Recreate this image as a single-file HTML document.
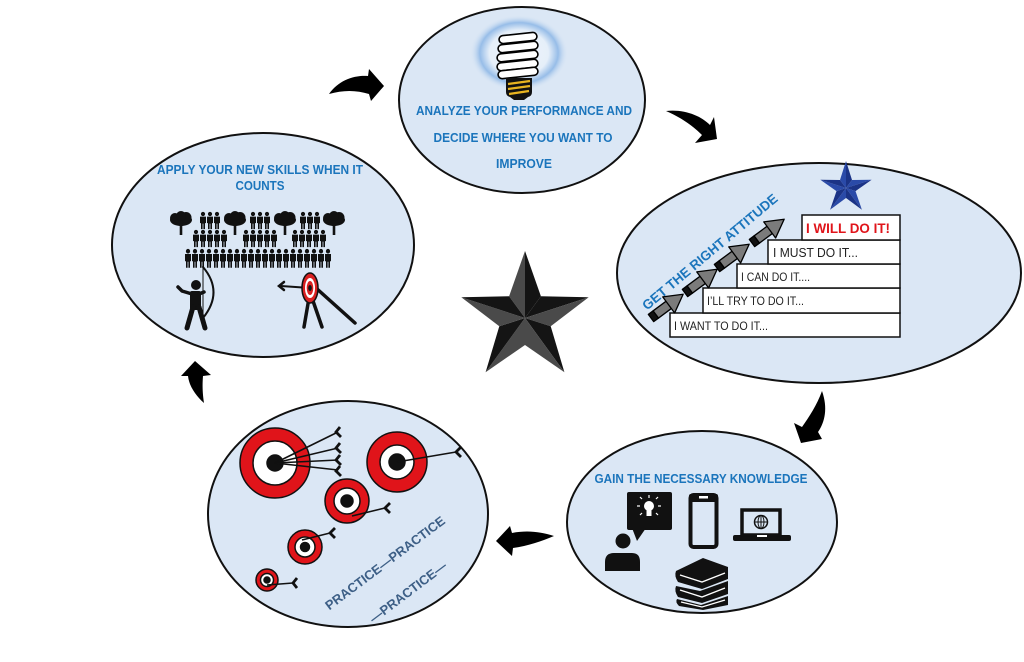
<!DOCTYPE html>
<html><head><meta charset="utf-8"><style>
html,body{margin:0;padding:0;background:#fff;}
svg{display:block;}
text{font-family:"Liberation Sans",sans-serif;}
</style></head><body>
<svg width="1024" height="662" viewBox="0 0 1024 662" xmlns="http://www.w3.org/2000/svg">
<defs>
<radialGradient id="glow" cx="0.5" cy="0.5" r="0.5">
<stop offset="0" stop-color="#eef4fb"/>
<stop offset="0.6" stop-color="#e6eff9"/>
<stop offset="0.8" stop-color="#97bde8"/>
<stop offset="1" stop-color="#dbe7f5" stop-opacity="0"/>
</radialGradient>
<g id="p"><circle cx="0" cy="2" r="2.1"/><path d="M-3,4.6 h6 v6.5 h-1 v6 h-1.6 v-5.5 h-0.8 v5.5 h-1.6 v-6 h-1 z"/></g>
<g id="tree"><ellipse cx="0" cy="0" rx="11" ry="6"/><circle cx="-6" cy="-2" r="5"/><circle cx="5" cy="-2.5" r="5.5"/><circle cx="0" cy="-4" r="5"/><path d="M-1.3,3 h2.6 v12 h-2.6 z M0,7 L-5,3 L-4,2 L0,5 L4,2 L5,3 z"/></g>
<g id="ga" stroke="#000" stroke-width="1.3" stroke-linejoin="round">
<rect x="0" y="-4.5" width="6" height="9" fill="#111"/>
<rect x="6" y="-4.5" width="17" height="9" fill="#7b7b7b"/>
<path d="M22,-10 L40,0 L22,10 Z" fill="#7b7b7b"/>
</g>
</defs>

<!-- curved arrows -->
<g fill="#000">
<path d="M329,94 C339,80 354,75 368,76 L369,69 L384,86 L371,101 L369,94 C356,90 343,90 329,94 Z"/>
<path d="M666,111 C685,109 701,116 710,125 L714,117 L717,139 L695,143 L702,135 C692,125 680,117 666,111 Z"/>
<path d="M822,391 C828,408 825,422 818,432 L822,439 L801,443 L794,423 L802,427 C809,417 817,405 822,391 Z"/>
<path d="M496,541 L510,526 L512,533 C528,530 541,532 554,536 C542,541 528,546 513,548 L512,556 Z"/>
<path d="M195,361 L211,375 L203,376 C202,388 203,396 204,403 C196,396 189,386 188,376 L181,376 Z"/>
</g>

<!-- ellipses -->
<g fill="#dbe7f5" stroke="#111" stroke-width="2">
<ellipse cx="522" cy="100" rx="123" ry="93"/>
<ellipse cx="263" cy="245" rx="151" ry="112"/>
<ellipse cx="819" cy="273" rx="202" ry="110"/>
<ellipse cx="702" cy="522" rx="135" ry="91"/>
<ellipse cx="348" cy="514" rx="140" ry="113"/>
</g>

<!-- TOP: bulb -->
<ellipse cx="519" cy="53" rx="49" ry="38" fill="url(#glow)"/>
<g stroke="#000" stroke-width="1.6" fill="#fff">
<rect x="499" y="34" width="38" height="8" rx="4" transform="rotate(-6 518 38)"/>
<rect x="498" y="43" width="40" height="8" rx="4" transform="rotate(-6 518 47)"/>
<rect x="497" y="52" width="41" height="8" rx="4" transform="rotate(-6 518 56)"/>
<rect x="497" y="61" width="41" height="8" rx="4" transform="rotate(-6 518 65)"/>
<rect x="498" y="69" width="40" height="8" rx="4" transform="rotate(-6 518 73)"/>
</g>
<path d="M506,78 h26 v14 q0,4 -4,5 l-4,3 h-10 l-4,-3 q-4,-1 -4,-5 z" fill="#111"/>
<g stroke="#e8b420" stroke-width="2.2"><line x1="508" y1="84" x2="530" y2="81"/><line x1="508" y1="89" x2="530" y2="86"/><line x1="509" y1="94" x2="529" y2="91"/></g>
<g fill="#1b75bc" font-weight="bold" font-size="12.5" text-anchor="middle">
<text x="524" y="115" textLength="216" lengthAdjust="spacingAndGlyphs">ANALYZE YOUR PERFORMANCE AND</text>
<text x="523" y="142" textLength="179" lengthAdjust="spacingAndGlyphs">DECIDE WHERE YOU WANT TO</text>
<text x="524" y="168" textLength="56" lengthAdjust="spacingAndGlyphs">IMPROVE</text>
</g>

<!-- LEFT: apply skills -->
<g fill="#1b75bc" font-weight="bold" font-size="12.5" text-anchor="middle">
<text x="260" y="174" textLength="206" lengthAdjust="spacingAndGlyphs">APPLY YOUR NEW SKILLS WHEN IT</text>
<text x="260" y="190" textLength="49" lengthAdjust="spacingAndGlyphs">COUNTS</text>
</g>
<g fill="#111">
<use href="#tree" x="181" y="220"/><use href="#tree" x="235" y="220"/><use href="#tree" x="285" y="220"/><use href="#tree" x="334" y="220"/>
<use href="#p" x="203" y="212"/><use href="#p" x="210" y="212"/><use href="#p" x="217" y="212"/>
<use href="#p" x="253" y="212"/><use href="#p" x="260" y="212"/><use href="#p" x="267" y="212"/>
<use href="#p" x="303" y="212"/><use href="#p" x="310" y="212"/><use href="#p" x="317" y="212"/>
<use href="#p" x="196" y="230"/><use href="#p" x="203" y="230"/><use href="#p" x="210" y="230"/><use href="#p" x="217" y="230"/><use href="#p" x="224" y="230"/>
<use href="#p" x="246" y="230"/><use href="#p" x="253" y="230"/><use href="#p" x="260" y="230"/><use href="#p" x="267" y="230"/><use href="#p" x="274" y="230"/>
<use href="#p" x="295" y="230"/><use href="#p" x="302" y="230"/><use href="#p" x="309" y="230"/><use href="#p" x="316" y="230"/><use href="#p" x="323" y="230"/>
<g transform="translate(0,249) scale(1,1.1)">
<use href="#p" x="188"/><use href="#p" x="195"/><use href="#p" x="202"/><use href="#p" x="209"/><use href="#p" x="216"/><use href="#p" x="223"/><use href="#p" x="230"/><use href="#p" x="237"/><use href="#p" x="244"/><use href="#p" x="251"/><use href="#p" x="258"/><use href="#p" x="265"/><use href="#p" x="272"/><use href="#p" x="279"/><use href="#p" x="286"/><use href="#p" x="293"/><use href="#p" x="300"/><use href="#p" x="307"/><use href="#p" x="314"/><use href="#p" x="321"/><use href="#p" x="328"/>
</g>
<!-- archer -->
<circle cx="196" cy="285" r="5"/>
<rect x="190" y="291" width="11" height="19" rx="2"/>
</g>
<g stroke="#111" fill="none" stroke-linecap="round">
<path d="M193,307 L187,328 M199,307 L205,328" stroke-width="5"/>
<path d="M192,294 L182,291 L178,287" stroke-width="3.5"/>
<path d="M199,294 L204,292" stroke-width="3.5"/>
<path d="M203,267 Q224,292 203,318" stroke-width="2"/>
<line x1="203" y1="267" x2="203" y2="318" stroke-width="1"/>
<path d="M309,298 L304,327 M312,298 L322,327 M316,288 L355,323" stroke-width="3.5"/>
<line x1="281" y1="286" x2="310" y2="288" stroke-width="2"/>
<path d="M284,282 L279,286 L284,290" stroke-width="2.5"/>
</g>
<ellipse cx="310" cy="288" rx="8" ry="15" fill="#d92020" stroke="#111" stroke-width="1.5"/>
<ellipse cx="310" cy="288" rx="5" ry="10" fill="#fff"/>
<ellipse cx="310" cy="288" rx="3.3" ry="7" fill="#d92020"/>
<ellipse cx="310" cy="288" rx="1.8" ry="3" fill="#111"/>

<!-- RIGHT: attitude -->
<g stroke="#111" stroke-width="1.5" fill="#fff">
<rect x="670" y="313" width="230" height="24"/>
<rect x="703" y="288" width="197" height="25"/>
<rect x="737" y="264" width="163" height="24"/>
<rect x="768" y="240" width="132" height="24"/>
<rect x="802" y="215" width="98" height="25"/>
</g>
<g fill="#222" font-size="12">
<text x="674" y="330" textLength="94" lengthAdjust="spacingAndGlyphs">I WANT TO DO IT...</text>
<text x="707" y="305" textLength="97" lengthAdjust="spacingAndGlyphs">I’LL TRY TO DO IT...</text>
<text x="741" y="281" textLength="69" lengthAdjust="spacingAndGlyphs">I CAN DO IT....</text>
<text x="773" y="257" font-size="13" textLength="85" lengthAdjust="spacingAndGlyphs">I MUST DO IT...</text>
</g>
<text x="806" y="233" fill="#e0141a" font-weight="bold" font-size="14" textLength="84" lengthAdjust="spacingAndGlyphs">I WILL DO IT!</text>
<text x="710" y="252" fill="#1b75bc" font-weight="bold" font-size="13.5" text-anchor="middle" dominant-baseline="central" textLength="172" lengthAdjust="spacingAndGlyphs" transform="rotate(-40 710 252)">GET THE RIGHT ATTITUDE</text>
<use href="#ga" transform="translate(651,318) rotate(-36.5)"/>
<use href="#ga" transform="translate(685,293) rotate(-36.5)"/>
<use href="#ga" transform="translate(717,268) rotate(-36.5)"/>
<use href="#ga" transform="translate(752,243) rotate(-36.5)"/>
<!-- blue star -->
<g transform="translate(846,188)">
<path d="M0,0 L0,-27 L-6,-8 Z" fill="#2a4aa8"/><path d="M0,0 L0,-27 L6,-8 Z" fill="#1b3386"/>
<path d="M0,0 L25.7,-8.3 L6,-8 Z" fill="#2a4aa8"/><path d="M0,0 L25.7,-8.3 L9.5,3.1 Z" fill="#1b3386"/>
<path d="M0,0 L15.9,21.8 L9.5,3.1 Z" fill="#2a4aa8"/><path d="M0,0 L15.9,21.8 L0,10 Z" fill="#1b3386"/>
<path d="M0,0 L-15.9,21.8 L0,10 Z" fill="#2a4aa8"/><path d="M0,0 L-15.9,21.8 L-9.5,3.1 Z" fill="#1b3386"/>
<path d="M0,0 L-25.7,-8.3 L-9.5,3.1 Z" fill="#2a4aa8"/><path d="M0,0 L-25.7,-8.3 L-6,-8 Z" fill="#1b3386"/>
</g>

<!-- CENTER star -->
<g transform="translate(525,318)">
<path d="M0,0 L0,-67 L-15.9,-21.8 Z" fill="#4a4a4a"/><path d="M0,0 L0,-67 L15.9,-21.8 Z" fill="#141414"/>
<path d="M0,0 L63.7,-20.7 L15.9,-21.8 Z" fill="#141414"/><path d="M0,0 L63.7,-20.7 L25.7,8.3 Z" fill="#4a4a4a"/>
<path d="M0,0 L39.4,54.2 L25.7,8.3 Z" fill="#141414"/><path d="M0,0 L39.4,54.2 L0,27 Z" fill="#4a4a4a"/>
<path d="M0,0 L-39.4,54.2 L0,27 Z" fill="#4a4a4a"/><path d="M0,0 L-39.4,54.2 L-25.7,8.3 Z" fill="#141414"/>
<path d="M0,0 L-63.7,-20.7 L-25.7,8.3 Z" fill="#4a4a4a"/><path d="M0,0 L-63.7,-20.7 L-15.9,-21.8 Z" fill="#141414"/>
</g>

<!-- BOTTOM RIGHT: knowledge -->
<text x="701" y="483" fill="#1b75bc" font-weight="bold" font-size="12.5" text-anchor="middle" textLength="213" lengthAdjust="spacingAndGlyphs">GAIN THE NECESSARY KNOWLEDGE</text>
<g fill="#111">
<rect x="627" y="492" width="45" height="38" rx="2"/>
<path d="M632,528 L637,541 L646,528 Z"/>
<circle cx="623" cy="541" r="7.5"/>
<path d="M605,571 L605,562 Q605,553 614,553 L632,553 Q640,553 640,562 L640,571 Z"/>
<rect x="689" y="494" width="29" height="8" rx="2"/>
<rect x="733" y="535" width="58" height="6" rx="2"/>
</g>
<circle cx="649" cy="506" r="5" fill="#fff"/>
<rect x="646.5" y="510" width="5" height="6" fill="#fff"/>
<g stroke="#fff" stroke-width="1.2"><line x1="649" y1="495" x2="649" y2="498"/><line x1="640" y1="506" x2="637" y2="506"/><line x1="658" y1="506" x2="661" y2="506"/><line x1="642" y1="499" x2="640" y2="497"/><line x1="656" y1="499" x2="658" y2="497"/><line x1="642" y1="513" x2="640" y2="515"/><line x1="656" y1="513" x2="658" y2="515"/></g>
<rect x="690.5" y="495" width="26" height="52" rx="3" fill="none" stroke="#111" stroke-width="4"/>
<rect x="699" y="496" width="9" height="2.5" fill="#fff"/>
<rect x="742" y="510" width="38" height="25" fill="none" stroke="#111" stroke-width="3.5"/>
<circle cx="761" cy="522" r="6.5" fill="none" stroke="#111" stroke-width="1.5"/>
<g stroke="#111" stroke-width="1" fill="none"><line x1="754.5" y1="522" x2="767.5" y2="522"/><line x1="761" y1="515.5" x2="761" y2="528.5"/><ellipse cx="761" cy="522" rx="3" ry="6.5"/></g>
<rect x="757" y="535" width="10" height="2" fill="#fff"/>
<!-- books -->
<g fill="#111">
<path d="M676,571 L703,558 L728,567 L728,579 L702,589 L678,582 Q674,576 676,571 Z"/>
<path d="M676,586 L700,591 L728,581 L728,594 L702,603 L678,597 Q674,591 676,586 Z"/>
<path d="M677,599 L701,605 L728,596 L728,605 L703,610 L679,606 Q675,602 677,599 Z"/>
</g>
<g stroke="#fff" stroke-width="1.3" fill="none">
<path d="M680,575 L702,582 L725,573"/><path d="M680,590 L702,597 L725,588"/><path d="M681,602 L702,607 L725,600"/>
</g>

<!-- BOTTOM LEFT: practice -->
<g stroke="#111" stroke-width="1.5">
<circle cx="275" cy="463" r="35" fill="#e0141a"/><circle cx="275" cy="463" r="22" fill="#fff"/><circle cx="275" cy="463" r="8" fill="#111"/>
<circle cx="397" cy="462" r="30" fill="#e0141a"/><circle cx="397" cy="462" r="17" fill="#fff"/><circle cx="397" cy="462" r="8" fill="#111"/>
<circle cx="347" cy="501" r="22" fill="#e0141a"/><circle cx="347" cy="501" r="13" fill="#fff"/><circle cx="347" cy="501" r="6" fill="#111"/>
<circle cx="305" cy="547" r="17" fill="#e0141a"/><circle cx="305" cy="547" r="10" fill="#fff"/><circle cx="305" cy="547" r="4.5" fill="#111"/>
<circle cx="267" cy="580" r="11" fill="#e0141a"/><circle cx="267" cy="580" r="6.5" fill="#fff"/><circle cx="267" cy="580" r="3" fill="#111"/>
</g>
<g stroke="#111" stroke-width="1.6" fill="none">
<line x1="275" y1="463" x2="338" y2="432"/><line x1="275" y1="463" x2="338" y2="448"/><line x1="275" y1="463" x2="338" y2="460"/><line x1="275" y1="463" x2="338" y2="470"/>
<line x1="397" y1="462" x2="456" y2="452"/>
<line x1="352" y1="516" x2="385" y2="508"/>
<line x1="302" y1="540" x2="330" y2="533"/>
<line x1="267" y1="585" x2="293" y2="583"/>
</g>
<g stroke="#111" stroke-width="2.8" fill="none" stroke-linejoin="miter">
<path d="M340,427 L336,432 L341,437"/><path d="M340,443 L336,448 L341,453"/><path d="M340,455 L336,460 L341,465"/><path d="M340,466 L336,471 L341,476"/>
<path d="M461,447 L456,452 L461,457"/>
<path d="M390,503 L385,508 L390,513"/>
<path d="M335,528 L330,533 L335,538"/>
<path d="M297,578 L293,583 L297,588"/>
</g>
<g fill="#3d5f86" font-size="13" font-weight="bold" text-anchor="middle" dominant-baseline="central">
<text x="385" y="563" textLength="146" lengthAdjust="spacingAndGlyphs" transform="rotate(-37 385 563)">PRACTICE—PRACTICE</text>
<text x="408" y="592" textLength="93" lengthAdjust="spacingAndGlyphs" transform="rotate(-37 408 592)">—PRACTICE—</text>
</g>
</svg>
</body></html>
